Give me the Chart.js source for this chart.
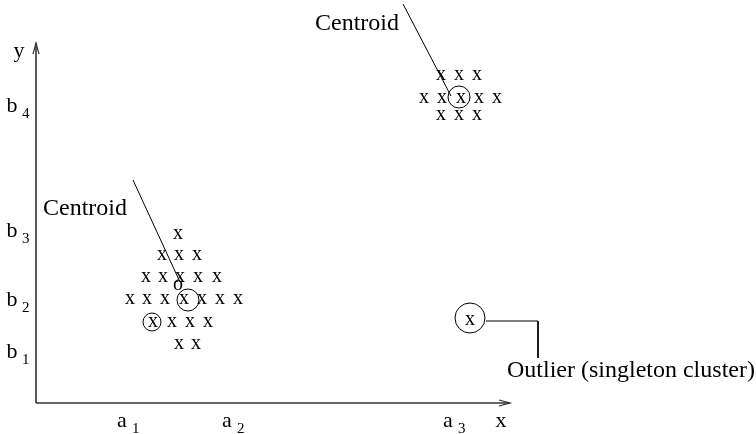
<!DOCTYPE html>
<html>
<head>
<title>Clusters, centroids and an outlier</title>
<script src="https://cdn.jsdelivr.net/npm/chart.js"></script>
<style>
  body { margin: 0; background: #fff; }
</style>
</head>
<body>
<canvas id="clusterChart" width="756" height="434"></canvas>
<script>
// axis tick labels (letter + subscript)
const xTickNames = ['a', 'a', 'a'];
const xTickSubs = ['1', '2', '3'];
const xTickValues = [9.1, 19.6, 41.7];
const yTickNames = ['b', 'b', 'b', 'b'];
const yTickSubs = ['1', '2', '3', '4'];
const yTickValues = [4.5, 9.7, 16.6, 29.1];
const axisEndX = 47.4;
const axisEndY = 36.0;

// lower left cluster
const clusterAX = [14.2,
  12.6, 14.3, 16.1,
  11.0, 12.7, 14.4, 16.2, 18.1,
  9.4, 11.1, 12.9, 14.8, 16.6, 18.4, 20.2,
  11.7, 13.6, 15.4, 17.2,
  14.3, 16.0];
const clusterAY = [16.9,
  14.8, 14.8, 14.8,
  12.6, 12.6, 12.6, 12.6, 12.6,
  10.4, 10.4, 10.4, 10.4, 10.4, 10.4, 10.4,
  8.1, 8.1, 8.1, 8.1,
  5.9, 5.9];

// upper right cluster
const clusterBX = [40.5, 42.3, 44.1,
  38.8, 40.6, 42.5, 44.3, 46.1,
  40.5, 42.3, 44.1];
const clusterBY = [32.8, 32.8, 32.8,
  30.5, 30.5, 30.5, 30.5, 30.5,
  28.8, 28.8, 28.8];

// the singleton
const outlierX = [43.4];
const outlierY = [8.3];

// centroid marker "o"
const centroidX = [14.2];
const centroidY = [11.8];

// circled points
const circleX = [15.2, 11.6, 42.3, 43.4];
const circleY = [10.3, 8.1, 30.6, 8.5];

// leader lines
const leaderAX = [9.7, 14.4];
const leaderAY = [22.3, 12.1];
const leaderBX = [36.7, 41.5];
const leaderBY = [39.9, 30.7];
const leaderCX = [45.0, 50.2, 50.2];
const leaderCY = [8.2, 8.2, 4.5];

// annotations
const noteTexts = ['Centroid', 'Centroid', 'Outlier (singleton cluster)'];
const noteX = [4.9, 32.1, 47.1];
const noteY = [18.8, 37.3, 2.6];
const noteAlign = ['center', 'center', 'left'];

const serif = '"Liberation Serif", "Times New Roman", serif';

function pts(xs, ys) {
    return xs.map(function(x, i) { return { x: x, y: ys[i] }; });
}

// small canvas with a glyph, used as a point style
function glyph(ch, size) {
    var c = document.createElement('canvas');
    c.width = 24;
    c.height = 24;
    var g = c.getContext('2d');
    g.font = size + 'px ' + serif;
    g.fillStyle = '#000';
    g.textAlign = 'center';
    g.textBaseline = 'alphabetic';
    g.fillText(ch, 12, 12 + size * 0.23);
    return c;
}
var xGlyph = glyph('x', 20);
var oGlyph = glyph('o', 20);

function lineSet(xs, ys) {
    return {
        data: pts(xs, ys),
        showLine: true,
        borderColor: '#000',
        borderWidth: 1,
        pointRadius: 0,
        fill: false
    };
}

// axes with arrows, tick labels and notes
var diagramPlugin = {
    id: 'diagram',
    afterDatasetsDraw: function(chart) {
        var ctx = chart.ctx;
        var sx = chart.scales.x, sy = chart.scales.y;
        var x0 = sx.getPixelForValue(0), y0 = sy.getPixelForValue(0);
        var xe = sx.getPixelForValue(axisEndX), ye = sy.getPixelForValue(axisEndY);
        ctx.save();
        ctx.strokeStyle = '#333';
        ctx.lineWidth = 1.6;
        ctx.beginPath();
        ctx.moveTo(x0, y0); ctx.lineTo(xe, y0);
        ctx.moveTo(x0, y0); ctx.lineTo(x0, ye);
        ctx.stroke();
        ctx.lineWidth = 1.2;
        ctx.beginPath();
        ctx.moveTo(xe - 11, y0 - 3); ctx.lineTo(xe, y0); ctx.lineTo(xe - 11, y0 + 3);
        ctx.moveTo(x0 - 3, ye + 11); ctx.lineTo(x0, ye); ctx.lineTo(x0 + 3, ye + 11);
        ctx.stroke();

        ctx.fillStyle = '#000';
        ctx.textBaseline = 'alphabetic';
        // axis names
        ctx.font = '22px ' + serif;
        ctx.textAlign = 'center';
        ctx.fillText('x', xe - 9, y0 + 24);
        ctx.fillText('y', x0 - 17, ye + 14);

        // x ticks
        xTickValues.forEach(function(v, i) {
            var px = sx.getPixelForValue(v);
            ctx.font = '22px ' + serif;
            ctx.textAlign = 'center';
            ctx.fillText(xTickNames[i], px - 5, y0 + 24);
            ctx.font = '15px ' + serif;
            ctx.textAlign = 'left';
            ctx.fillText(xTickSubs[i], px + 5, y0 + 30);
        });
        // y ticks
        yTickValues.forEach(function(v, i) {
            var py = sy.getPixelForValue(v);
            ctx.font = '22px ' + serif;
            ctx.textAlign = 'center';
            ctx.fillText(yTickNames[i], x0 - 24, py);
            ctx.font = '15px ' + serif;
            ctx.textAlign = 'left';
            ctx.fillText(yTickSubs[i], x0 - 14, py + 6);
        });

        // notes
        ctx.font = '24px ' + serif;
        noteTexts.forEach(function(t, i) {
            ctx.textAlign = noteAlign[i];
            ctx.fillText(t, sx.getPixelForValue(noteX[i]), sy.getPixelForValue(noteY[i]));
        });
        ctx.restore();
    }
};

var ctx = document.getElementById('clusterChart').getContext('2d');
var clusterChart = new Chart(ctx, {
    type: 'scatter',
    data: {
        datasets: [
            { data: pts(clusterAX, clusterAY), pointStyle: xGlyph, pointRadius: 10 },
            { data: pts(clusterBX, clusterBY), pointStyle: xGlyph, pointRadius: 10 },
            { data: pts(outlierX, outlierY), pointStyle: xGlyph, pointRadius: 10 },
            { data: pts(centroidX, centroidY), pointStyle: oGlyph, pointRadius: 10 },
            {
                data: pts(circleX, circleY),
                pointStyle: 'circle',
                pointRadius: [11, 9, 11, 15],
                borderColor: '#000',
                borderWidth: 1,
                backgroundColor: 'rgba(0,0,0,0)'
            },
            lineSet(leaderAX, leaderAY),
            lineSet(leaderBX, leaderBY),
            lineSet(leaderCX, leaderCY)
        ]
    },
    options: {
        responsive: false,
        animation: false,
        devicePixelRatio: 1,
        layout: { padding: 0, autoPadding: false },
        plugins: {
            legend: { display: false },
            tooltip: { enabled: false }
        },
        scales: {
            x: { type: 'linear', min: -3.6, max: 72.0, display: false },
            y: { type: 'linear', min: -3.1, max: 40.3, display: false }
        }
    },
    plugins: [diagramPlugin]
});
</script>
</body>
</html>
